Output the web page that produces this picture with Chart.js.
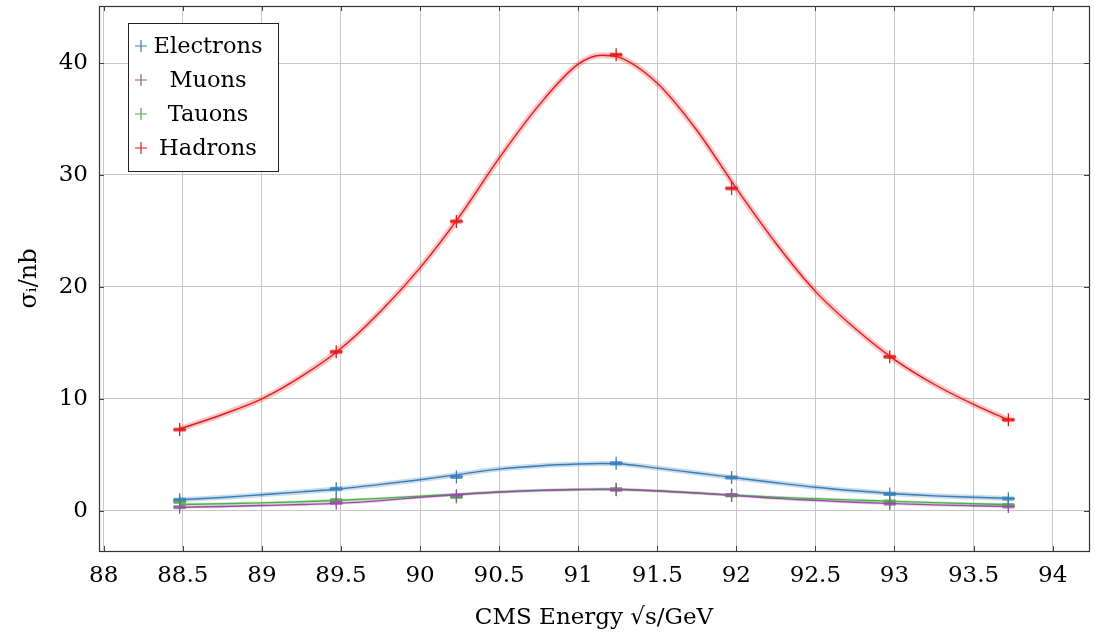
<!DOCTYPE html>
<html>
<head>
<meta charset="utf-8">
<script src="https://cdn.jsdelivr.net/npm/chart.js@4.4.1/dist/chart.umd.min.js"></script>
<style>
  html, body { margin: 0; padding: 0; background: #fff; }
  #wrap { width: 1095px; height: 634px; position: relative; }
</style>
</head>
<body>
<div id="wrap"><canvas id="c"></canvas></div>
<script>
// ---- data ----
const xTicks = [88, 88.5, 89, 89.5, 90, 90.5, 91, 91.5, 92, 92.5, 93, 93.5, 94];
const yTicks = [0, 10, 20, 30, 40];
const seriesNames = ['Electrons', 'Muons', 'Tauons', 'Hadrons'];

const energies  = [88.48, 89.47, 90.23, 91.24, 91.97, 92.97, 93.72];
const electrons = [0.98, 1.96, 3.02, 4.24, 2.97, 1.49, 1.08];
const muons     = [0.32, 0.70, 1.34, 1.88, 1.40, 0.63, 0.38];
const tauons    = [0.78, 0.96, 1.22, 1.92, 1.37, 0.83, 0.51];
const hadrons   = [7.25, 14.2, 25.85, 40.75, 28.8, 13.75, 8.13];

// fitted curves
const fitX        = [88.48, 88.75, 89.0, 89.25, 89.5, 89.75, 90.0, 90.25, 90.5, 90.75, 91.0, 91.15, 91.25, 91.5, 91.75, 92.0, 92.25, 92.5, 92.75, 93.0, 93.25, 93.5, 93.72];
const electronFit = [0.98, 1.18, 1.43, 1.68, 1.96, 2.35, 2.77, 3.25, 3.72, 4.0, 4.17, 4.22, 4.2, 3.81, 3.37, 2.93, 2.5, 2.1, 1.78, 1.52, 1.33, 1.2, 1.1];
const muonFit     = [0.3, 0.38, 0.46, 0.55, 0.68, 0.9, 1.2, 1.45, 1.67, 1.82, 1.9, 1.93, 1.92, 1.78, 1.58, 1.35, 1.1, 0.92, 0.76, 0.63, 0.52, 0.44, 0.38];
const tauonFit    = [0.55, 0.62, 0.7, 0.8, 0.94, 1.1, 1.3, 1.48, 1.67, 1.8, 1.88, 1.9, 1.88, 1.76, 1.58, 1.38, 1.2, 1.07, 0.95, 0.83, 0.72, 0.62, 0.55];
const hadronFit   = [7.3, 8.6, 10.0, 12.0, 14.5, 17.8, 21.7, 26.3, 31.5, 36.2, 39.9, 40.7, 40.55, 38.2, 34.0, 28.8, 23.9, 19.6, 16.3, 13.5, 11.3, 9.5, 8.1];

// ---- styles ----
const COLORS = ['#377eb8', '#984ea3', '#4daf4a', '#e41a1c'];
const BANDS  = ['rgba(55,126,184,0.28)', 'rgba(152,78,163,0.25)', 'rgba(77,175,74,0.25)', 'rgba(228,26,28,0.25)'];
const CAPS   = ['rgba(55,126,184,0.75)', 'rgba(152,78,163,0.75)', 'rgba(77,175,74,0.75)', 'rgba(228,26,28,0.75)'];
const BANDW  = [5, 3, 3, 6];
const FONT = '"DejaVu Serif", "Liberation Serif", serif';

const points = [electrons, muons, tauons, hadrons];
const fits   = [electronFit, muonFit, tauonFit, hadronFit];
const toXY = (xs, ys) => xs.map((x, i) => ({ x: x, y: ys[i] }));

const datasets = [];
fits.forEach((f, k) => {
  datasets.push({ type: 'line', label: seriesNames[k] + ' band', data: toXY(fitX, f),
    borderColor: BANDS[k], borderWidth: BANDW[k], pointRadius: 0,
    cubicInterpolationMode: 'monotone', fill: false, order: 10 });
});
fits.forEach((f, k) => {
  datasets.push({ type: 'line', label: seriesNames[k] + ' fit', data: toXY(fitX, f),
    borderColor: COLORS[k], borderWidth: 1.4, pointRadius: 0,
    cubicInterpolationMode: 'monotone', fill: false, order: 5 });
});
points.forEach((p, k) => {
  datasets.push({ type: 'scatter', label: seriesNames[k] + ' err', data: toXY(energies, p),
    pointStyle: 'line', pointRadius: 6, borderWidth: 4, borderColor: CAPS[k],
    backgroundColor: 'transparent', showLine: false, order: 2 });
  datasets.push({ type: 'scatter', label: seriesNames[k], data: toXY(energies, p),
    pointStyle: 'cross', pointRadius: 6.5, borderWidth: 1.3, borderColor: COLORS[k],
    backgroundColor: COLORS[k], showLine: false, order: 1 });
});

const framePlugin = {
  id: 'frame',
  afterDraw(chart) {
    const { ctx, chartArea: a, scales } = chart;
    ctx.save();
    ctx.strokeStyle = '#444';
    ctx.lineWidth = 1;
    ctx.beginPath();
    xTicks.forEach(v => {
      const px = Math.round(scales.x.getPixelForValue(v)) + 0.5;
      ctx.moveTo(px, a.bottom); ctx.lineTo(px, a.bottom - 5);
      ctx.moveTo(px, a.top); ctx.lineTo(px, a.top + 5);
    });
    yTicks.forEach(v => {
      const py = Math.round(scales.y.getPixelForValue(v)) + 0.5;
      ctx.moveTo(a.left, py); ctx.lineTo(a.left + 5, py);
      ctx.moveTo(a.right, py); ctx.lineTo(a.right - 5, py);
    });
    ctx.stroke();
    ctx.strokeStyle = '#333';
    ctx.lineWidth = 1.2;
    ctx.strokeRect(Math.round(a.left) + 0.5, Math.round(a.top) + 0.5,
                   Math.round(a.right - a.left), Math.round(a.bottom - a.top));
    // legend
    const bx = a.left + 29, by = a.top + 17, bw = 150, bh = 148;
    ctx.fillStyle = '#fff';
    ctx.fillRect(bx, by, bw, bh);
    ctx.strokeStyle = '#222';
    ctx.lineWidth = 1;
    ctx.strokeRect(Math.round(bx) + 0.5, Math.round(by) + 0.5, bw, bh);
    ctx.font = '22.5px ' + FONT;
    ctx.textAlign = 'center';
    ctx.textBaseline = 'middle';
    seriesNames.forEach((name, k) => {
      const cy = by + 23 + k * 34;
      const mx = bx + 13;
      ctx.strokeStyle = COLORS[k];
      ctx.lineWidth = 1.2;
      ctx.beginPath();
      ctx.moveTo(mx - 6, cy); ctx.lineTo(mx + 6, cy);
      ctx.moveTo(mx, cy - 6); ctx.lineTo(mx, cy + 6);
      ctx.stroke();
      ctx.fillStyle = '#000';
      ctx.fillText(name, bx + 80, cy + 1);
    });
    ctx.restore();
  }
};

new Chart(document.getElementById('c'), {
  data: { datasets },
  options: {
    responsive: true,
    maintainAspectRatio: false,
    animation: false,
    layout: { autoPadding: false, padding: { top: 6, right: 6, left: 0, bottom: 0 } },
    plugins: { legend: { display: false }, tooltip: { enabled: false } },
    scales: {
      x: {
        type: 'linear', min: 87.97, max: 94.23,
        afterBuildTicks: s => { s.ticks = xTicks.map(v => ({ value: v })); },
        afterFit: s => { s.height = 83; s.paddingLeft = 0; s.paddingRight = 0; },
        grid: { color: '#c8c8c8', lineWidth: 1, drawTicks: false },
        border: { display: false },
        ticks: { color: '#000', font: { family: FONT, size: 23 }, padding: 11, maxRotation: 0,
                 autoSkip: false, callback: v => String(v) },
        title: { display: true, text: 'CMS Energy √s/GeV', color: '#000',
                 font: { family: FONT, size: 23 }, padding: { top: 0, bottom: 2 } }
      },
      y: {
        type: 'linear', min: -3.6, max: 45.1,
        afterBuildTicks: s => { s.ticks = yTicks.map(v => ({ value: v })); },
        afterFit: s => { s.width = 99; s.paddingTop = 0; s.paddingBottom = 0; },
        grid: { color: '#c8c8c8', lineWidth: 1, drawTicks: false },
        border: { display: false },
        ticks: { color: '#000', font: { family: FONT, size: 23 }, padding: 11,
                 callback: v => String(v) },
        title: { display: true, text: 'σᵢ/nb', color: '#000',
                 font: { family: FONT, size: 24 }, padding: { top: 15, bottom: 0 } }
      }
    }
  },
  plugins: [framePlugin]
});
</script>
</body>
</html>
